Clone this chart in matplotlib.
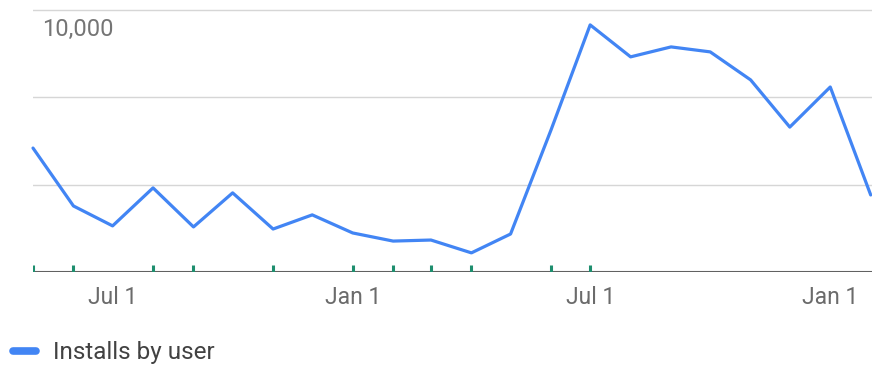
import matplotlib
matplotlib.use("Agg")
import matplotlib.pyplot as plt
import matplotlib.dates as mdates
import matplotlib.transforms as mtransforms
import numpy as np
import pandas as pd

plt.rcParams['font.family'] = ['Roboto', 'DejaVu Sans']

# Monthly installs by user
months = pd.date_range("2019-05-01", "2021-02-01", freq="MS")
installs = [4730, 2520, 1760, 3210, 1720, 3020, 1640, 2180, 1490, 1180, 1220,
            730, 1450, 5420, 9430, 8210, 8590, 8400, 7330, 5530, 7060, 2940]

# Release markers along the time axis
release_dates = pd.to_datetime(["2019-05-01", "2019-06-01", "2019-08-01", "2019-09-01",
                                "2019-11-01", "2020-01-01", "2020-02-01", "2020-03-01",
                                "2020-04-01", "2020-06-01", "2020-07-01"])

grid_values = [10000 / 3, 20000 / 3, 10000]
top_label = "10,000"
series_name = "Installs by user"

W, H, DPI = 872, 366, 100
fig = plt.figure(figsize=(W / DPI, H / DPI), dpi=DPI)
ax = fig.add_axes([33 / W, (H - 272) / H, (W - 33) / W, 272 / H])

line_color = "#4285f4"
ax.plot(months, installs, color=line_color, lw=2.3, solid_joinstyle="round",
        solid_capstyle="round", label=series_name, zorder=3, clip_on=False)

ax.set_xlim(pd.Timestamp("2019-05-01"), pd.Timestamp("2021-02-02"))
ax.set_ylim(0, 10380)

for g in grid_values:
    ax.axhline(g, color="#d6d6d6", lw=1.0, zorder=1)
ax.axhline(0, color="#616161", lw=1.5, zorder=2)

# release tick marks sitting on the baseline
trans = mtransforms.blended_transform_factory(ax.transData, ax.transAxes)
ax.vlines(release_dates, 0, 7 / 272, transform=trans, color="#1e8e6e", lw=2.2, zorder=3)

ax.annotate(top_label, xy=(0, 10000), xycoords=("axes fraction", "data"),
            xytext=(6.5, -5.5), textcoords="offset points", va="top", ha="left",
            fontsize=17, color="#757575")

for s in ax.spines.values():
    s.set_visible(False)
ax.set_yticks([])
ax.xaxis.set_major_locator(mdates.MonthLocator(bymonth=[1, 7]))
ax.xaxis.set_major_formatter(mdates.DateFormatter("%b 1"))
ax.tick_params(axis="x", length=0, pad=10, labelsize=16.5, labelcolor="#6b6b6b")

leg = ax.legend(loc="center left", bbox_to_anchor=(13 / W, 1 - 353 / H),
                bbox_transform=fig.transFigure, frameon=False, fontsize=17.5,
                handlelength=0.95, handletextpad=0.7, borderpad=0, borderaxespad=0)
for t in leg.get_texts():
    t.set_color("#424242")
for h in leg.get_lines():
    h.set_linewidth(5.5)

fig.savefig("out.png", dpi=DPI, facecolor="white")
